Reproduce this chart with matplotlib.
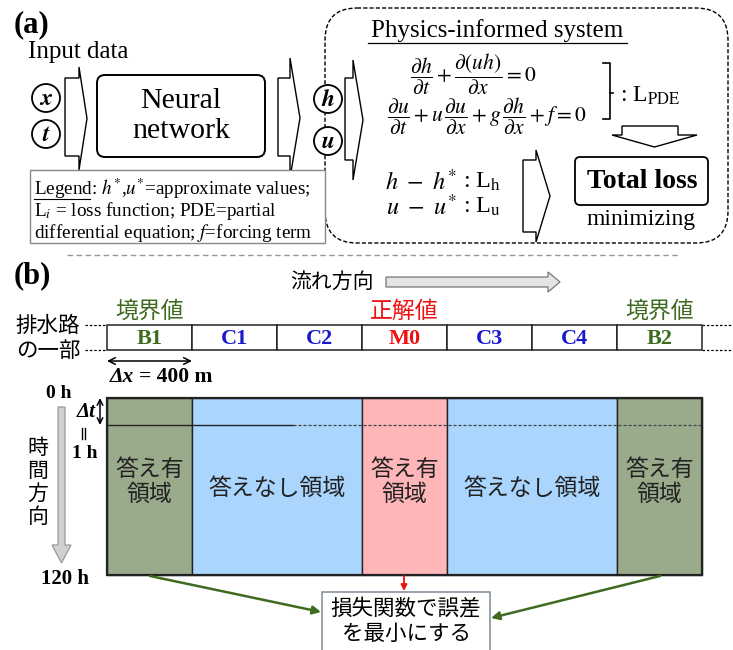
import matplotlib
matplotlib.use("Agg")
import matplotlib.pyplot as plt
from matplotlib.patches import FancyBboxPatch, Rectangle, Circle, Polygon

plt.rcParams['mathtext.fontset'] = 'stix'

SERIF = ['Liberation Serif', 'DejaVu Serif']
JP = ['Noto Sans CJK JP', 'DejaVu Sans']

# ---- content -------------------------------------------------------------
inputs = ['x', 't']
outputs = ['h', 'u']
nn_label = 'Neural\nnetwork'
legend_lines = [r'Legend: $h^{*}$,$u^{*}$=approximate values;',
                r'L$_i$ = loss function; PDE=partial',
                r'differential equation; $f$=forcing term']
pde_eqs = [r'$\dfrac{\partial h}{\partial t}+\dfrac{\partial (uh)}{\partial x}=0$',
           r'$\dfrac{\partial u}{\partial t}+u\,\dfrac{\partial u}{\partial x}+g\,\dfrac{\partial h}{\partial x}+f=0$']
data_terms = [r'$h\ -\ h^{*}$', r'$u\ -\ u^{*}$']
data_losses = [r': L$_{\rm h}$', r': L$_{\rm u}$']

segments = ['B1', 'C1', 'C2', 'M0', 'C3', 'C4', 'B2']
seg_kind = ['bnd', 'free', 'free', 'obs', 'free', 'free', 'bnd']
kind_text = {'bnd': '境界値', 'obs': '正解値'}
region_text = {'bnd': '答え有\n領域', 'obs': '答え有\n領域', 'free': '答えなし領域'}
time_labels = ['0 h', '1 h', '120 h']
loss_box_text = '損失関数で誤差\nを最小にする'

label_color = {'bnd': '#3e6b20', 'free': '#1a1acc', 'obs': '#ee1111'}
fill_color = {'bnd': '#9aab8c', 'free': '#aad5fd', 'obs': '#ffb6b9'}

# ---- canvas --------------------------------------------------------------
fig = plt.figure(figsize=(7.33, 6.5), dpi=100)
ax = fig.add_axes([0, 0, 1, 1])
ax.set_xlim(0, 733)
ax.set_ylim(650, 0)
ax.axis('off')


def block_arrow(x0, x1, tip, y0, y1, h0, h1, fc='white', ec='black', lw=1.0):
    ty = (h0 + h1) / 2
    pts = [(x0, y0), (x1, y0), (x1, h0), (tip, ty), (x1, h1), (x1, y1), (x0, y1)]
    ax.add_patch(Polygon(pts, closed=True, fc=fc, ec=ec, lw=lw, zorder=2))


def down_arrow(y0, y1, tip, x0, x1, h0, h1, fc='white', ec='black', lw=1.0):
    tx = (h0 + h1) / 2
    pts = [(x0, y0), (x0, y1), (h0, y1), (tx, tip), (h1, y1), (x1, y1), (x1, y0)]
    ax.add_patch(Polygon(pts, closed=True, fc=fc, ec=ec, lw=lw, zorder=2))


# ================= (a) =====================================================
ax.text(14, 25, '(a)', fontsize=22, fontweight='bold', family=SERIF, va='center')
ax.text(28, 52, 'Input data', fontsize=18, family=SERIF, va='center')

for i, s in enumerate(inputs):
    cy = 98 + i * 36
    ax.add_patch(Circle((46, cy), 14, fc='white', ec='black', lw=1.3, zorder=3))
    ax.text(46, cy, rf'$\boldsymbol{{{s}}}$', fontsize=17, ha='center', va='center', zorder=4)

block_arrow(65, 79, 87, 78, 156, 67, 170)

ax.add_patch(FancyBboxPatch((97, 75), 168, 82, boxstyle='round,pad=0,rounding_size=8',
                            fc='white', ec='black', lw=1.4, zorder=2))
ax.text(181, 116, nn_label, fontsize=21.5, family=SERIF, ha='center', va='center',
        linespacing=1.15, zorder=3)

block_arrow(278, 290, 300, 78, 156, 58, 178)

# physics-informed dashed container
ax.add_patch(FancyBboxPatch((325, 8), 403, 235, boxstyle='round,pad=0,rounding_size=32',
                            fc='none', ec='black', lw=1.0, ls=(0, (3, 1.5)), zorder=1))
ax.text(497, 31, 'Physics-informed system', fontsize=18, family=SERIF,
        ha='center', va='center', zorder=3)
ax.plot([368, 627], [43, 43], color='black', lw=0.9, zorder=3)

for i, s in enumerate(outputs):
    cy = 99 + i * 42
    ax.add_patch(Circle((328, cy), 14, fc='white', ec='black', lw=1.3, zorder=3))
    ax.text(328, cy, rf'$\boldsymbol{{{s}}}$', fontsize=17, ha='center', va='center', zorder=4)

block_arrow(345, 353, 363, 78, 160, 60, 180)

ax.text(473, 74, pde_eqs[0], fontsize=15.5, ha='center', va='center', zorder=3)
ax.text(487, 116, pde_eqs[1], fontsize=15.5, ha='center', va='center', zorder=3)

# bracket grouping the PDE residuals
ax.plot([603, 610, 610, 603], [63, 63, 119, 119], color='black', lw=1.2)
ax.plot([610, 613], [93, 93], color='black', lw=1.2)
ax.text(620, 96, r': L$_{\rm PDE}$', fontsize=17, family=SERIF, va='center')

down_arrow(126, 135, 147, 622, 678, 612, 697)

for i in range(2):
    cy = 182 + i * 25
    ax.text(457, cy, data_terms[i], fontsize=17.5, ha='right', va='center')
    ax.text(463, cy, data_losses[i], fontsize=17.5, family=SERIF, ha='left', va='center')

block_arrow(523, 536, 550, 160, 232, 150, 242)

ax.add_patch(FancyBboxPatch((575, 157), 133, 48, boxstyle='round,pad=0,rounding_size=5',
                            fc='white', ec='black', lw=1.3, zorder=2))
ax.text(642, 181, 'Total loss', fontsize=20, fontweight='bold', family=SERIF,
        ha='center', va='center', zorder=3)
ax.text(641, 219, 'minimizing', fontsize=17, family=SERIF, ha='center', va='center')

# legend box
ax.add_patch(Rectangle((30, 170), 295, 73, fc='white', ec='#888888', lw=1.0, zorder=5))
for i, line in enumerate(legend_lines):
    ax.text(34, 189 + i * 22, line, fontsize=13.8, family=SERIF, va='center', zorder=6)
ax.plot([34, 90], [199, 199], color='black', lw=0.8, zorder=6)

# separator
ax.plot([67, 680], [255, 255], color='#999999', lw=1.0, ls=(0, (4, 2.5)))

# ================= (b) =====================================================
ax.text(14, 276, '(b)', fontsize=22, fontweight='bold', family=SERIF, va='center')
ax.text(332, 282, '流れ方向', fontsize=15, family=JP, ha='center', va='center')
block_arrow(386, 548, 560, 277, 287, 272, 292, fc='#e4e4e4', ec='#777777', lw=0.9)

seg_x0, seg_w = 107, 85
row_top, row_bot = 325, 350
ax.text(48, 326, '排水路', fontsize=15.5, family=JP, ha='center', va='center')
ax.text(48, 351, 'の一部', fontsize=15.5, family=JP, ha='center', va='center')
for y in (row_top, row_bot):
    ax.plot([85, seg_x0], [y, y], color='black', lw=0.9, ls=(0, (2, 1.5)))
    ax.plot([seg_x0 + seg_w * len(segments), 733], [y, y], color='black', lw=0.9, ls=(0, (2, 1.5)))

for i, (name, kind) in enumerate(zip(segments, seg_kind)):
    x0 = seg_x0 + i * seg_w
    ax.add_patch(Rectangle((x0, row_top), seg_w, row_bot - row_top, fc='white',
                           ec='#222222', lw=1.1, zorder=2))
    ax.text(x0 + seg_w / 2, (row_top + row_bot) / 2 + 1, name, fontsize=16,
            fontweight='bold', family=SERIF, color=label_color[kind],
            ha='center', va='center', zorder=3)
    if kind in kind_text:
        ax.text(x0 + seg_w / 2, 311, kind_text[kind], fontsize=16.5, family=JP,
                color=label_color[kind], ha='center', va='center')

ax.annotate('', xy=(seg_x0, 361), xytext=(seg_x0 + seg_w, 361),
            arrowprops=dict(arrowstyle='<->', color='black', lw=1.1,
                            shrinkA=0, shrinkB=0, mutation_scale=12))
ax.text(110, 377, 'Δx', fontsize=15.5, fontweight='bold', fontstyle='italic',
        family=SERIF, va='center')
ax.text(139, 377, '= 400 m', fontsize=15.5, fontweight='bold', family=SERIF, va='center')

# space-time regions: neighbouring segments of the same kind share one region
groups = []
for i, kind in enumerate(seg_kind):
    if groups and groups[-1][0] == kind:
        groups[-1][2] = i + 1
    else:
        groups.append([kind, i, i + 1])

grid_top, grid_bot, step_y = 398, 575, 425
for kind, a, b in groups:
    x0 = seg_x0 + a * seg_w
    w = (b - a) * seg_w
    ax.add_patch(Rectangle((x0, grid_top), w, grid_bot - grid_top,
                           fc=fill_color[kind], ec='#222222', lw=1.0, zorder=1))
    ty = 482 if kind != 'free' else 488
    ax.text(x0 + w / 2, ty, region_text[kind], fontsize=16.5, family=JP,
            color='#222222', ha='center', va='center', linespacing=1.1, zorder=3)
grid_right = seg_x0 + seg_w * len(segments)
ax.add_patch(Rectangle((seg_x0, grid_top), grid_right - seg_x0, grid_bot - grid_top,
                       fc='none', ec='#222222', lw=1.6, zorder=2))
ax.plot([seg_x0, 293], [step_y, step_y], color='#222222', lw=1.0, zorder=2)
ax.plot([293, grid_right], [step_y, step_y], color='#444444', lw=0.9,
        ls=(0, (2.5, 1.5)), zorder=2)

# time axis annotations
ax.text(59, 393, time_labels[0], fontsize=14, fontweight='bold', family=SERIF,
        ha='center', va='center')
ax.text(85, 453, time_labels[1], fontsize=14, fontweight='bold', family=SERIF,
        ha='center', va='center')
ax.text(65, 579, time_labels[2], fontsize=15, fontweight='bold', family=SERIF,
        ha='center', va='center')
ax.annotate('', xy=(100, grid_top), xytext=(100, step_y),
            arrowprops=dict(arrowstyle='<->', color='black', lw=1.1,
                            shrinkA=0, shrinkB=0, mutation_scale=10))
ax.text(86, 412, 'Δt', fontsize=15, fontweight='bold', fontstyle='italic',
        family=SERIF, ha='center', va='center')
ax.plot([81.5, 81.5], [428, 439], color='black', lw=1.0)
ax.plot([84.5, 84.5], [428, 439], color='black', lw=1.0)
down_arrow(407, 545, 563, 58, 65, 52, 71, fc='#d0d0d0', ec='#999999', lw=0.9)
for i, ch in enumerate('時間方向'):
    ax.text(38, 448 + i * 23, ch, fontsize=15, family=JP, ha='center', va='center')

# loss box and links
ax.add_patch(Rectangle((322, 592), 168, 62, fc='white', ec='#7f8c9a', lw=1.1, zorder=3))
ax.text(406, 621, loss_box_text, fontsize=15.5, family=JP, ha='center', va='center',
        linespacing=1.2, zorder=4)
green = '#3e6b20'
ax.annotate('', xy=(321, 612), xytext=(150, 576),
            arrowprops=dict(arrowstyle='-|>', color=green, lw=1.8, shrinkA=0, shrinkB=0,
                            mutation_scale=12))
ax.annotate('', xy=(491, 618), xytext=(660, 576),
            arrowprops=dict(arrowstyle='-|>', color=green, lw=1.8, shrinkA=0, shrinkB=0,
                            mutation_scale=12))
ax.annotate('', xy=(404, 591), xytext=(404, 576),
            arrowprops=dict(arrowstyle='-|>', color='#ee1111', lw=1.3, shrinkA=0, shrinkB=0,
                            mutation_scale=9))

fig.savefig('out.png', dpi=100)
